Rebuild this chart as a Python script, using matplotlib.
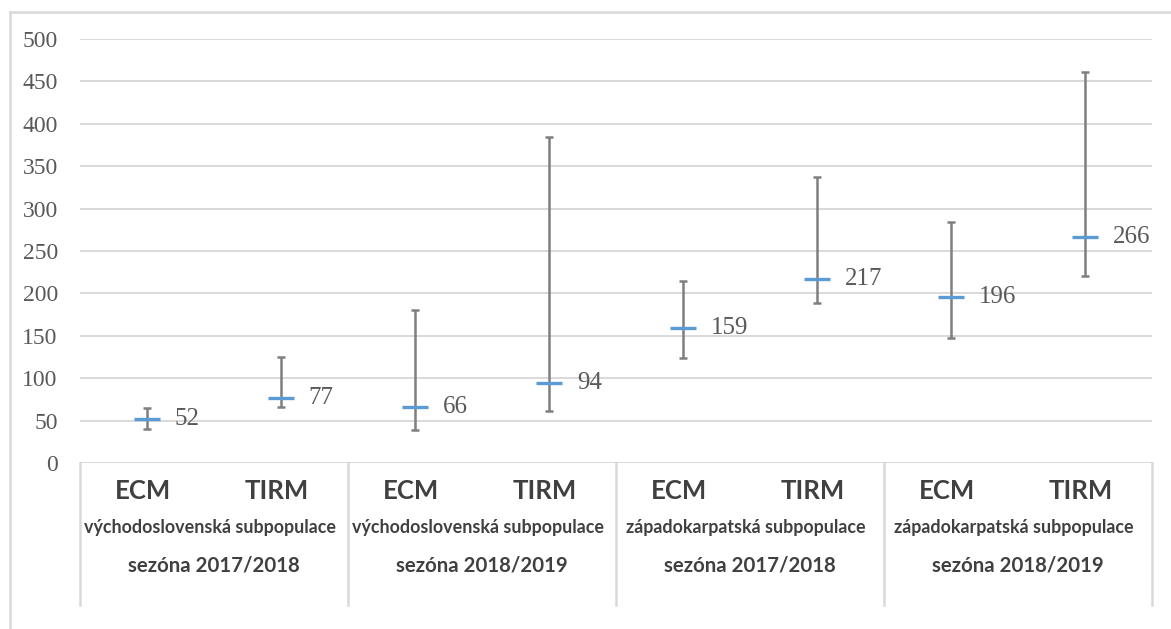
import matplotlib
matplotlib.use("Agg")
import matplotlib.pyplot as plt
from matplotlib.lines import Line2D

# serif for numbers, category texts set Lato explicitly
plt.rcParams["font.family"] = ["Liberation Serif", "DejaVu Serif"]

# --- Data ---
methods = ["ECM", "TIRM", "ECM", "TIRM", "ECM", "TIRM", "ECM", "TIRM"]
subpops = ["východoslovenská subpopulace", "východoslovenská subpopulace",
           "západokarpatská subpopulace", "západokarpatská subpopulace"]
seasons = ["sezóna 2017/2018", "sezóna 2018/2019",
           "sezóna 2017/2018", "sezóna 2018/2019"]
estimates = [52, 77, 66, 94, 159, 217, 196, 266]
lower = [40, 66, 39, 61, 124, 189, 147, 220]
upper = [65, 125, 180, 384, 215, 337, 284, 461]
y_ticks = [0, 50, 100, 150, 200, 250, 300, 350, 400, 450, 500]

W, H = 1171, 629
fig = plt.figure(figsize=(W / 100, H / 100), dpi=100)
fig.patch.set_facecolor("white")

# plot area in pixels
x0, x1, yb, yt = 80, 1152, 463, 39
ax = fig.add_axes([x0 / W, 1 - yb / H, (x1 - x0) / W, (yb - yt) / H])

grid_col = "#d9d9d9"
for s in ax.spines.values():
    s.set_visible(False)

ax.set_ylim(0, 500)
ax.set_xlim(0, len(methods))
ax.set_yticks(y_ticks)
ax.set_xticks([])
ax.yaxis.grid(True, color=grid_col, linewidth=1.4)
ax.set_axisbelow(True)
ax.tick_params(axis="y", length=0, pad=16, labelsize=17, labelcolor="#595959")

xs = [i + 0.5 for i in range(len(methods))]
err_lo = [e - l for e, l in zip(estimates, lower)]
err_hi = [u - e for e, u in zip(estimates, upper)]

# confidence intervals
ax.errorbar(xs, estimates, yerr=[err_lo, err_hi], fmt="none", ecolor="#7f7f7f",
            elinewidth=1.8, capsize=3, capthick=1.8, zorder=3)
# point estimates
ax.plot(xs, estimates, linestyle="none", marker="_", markersize=19,
        markeredgewidth=2.4, color="#5B9BD5", zorder=4)

for x, v in zip(xs, estimates):
    ax.annotate(str(v), (x, v), xytext=(20, 0), textcoords="offset points",
                ha="left", va="center", fontsize=18, color="#595959")

# category table under the axis
trans = ax.get_xaxis_transform()
depth = -(605 - yb) / (yb - yt)
for gx in range(0, len(methods) + 1, 2):
    ax.plot([gx, gx], [0, depth], transform=trans, color=grid_col,
            linewidth=1.8, clip_on=False)

y_method = -(491 - yb) / (yb - yt)
y_sub = -(528 - yb) / (yb - yt)
y_season = -(565 - yb) / (yb - yt)
for x, m in zip(xs, methods):
    ax.text(x - 0.03, y_method, m, transform=trans, ha="center", va="center",
            fontsize=18.5, fontweight="bold", color="#404040", family="Lato")
for g in range(len(subpops)):
    cx = 2 * g + 1
    ax.text(cx - 0.03, y_sub, subpops[g], transform=trans, ha="center",
            va="center", fontsize=12.9, fontweight="bold", color="#404040",
            family="Lato")
    ax.text(cx, y_season, seasons[g], transform=trans, ha="center",
            va="center", fontsize=14.7, fontweight="bold", color="#404040",
            family="Lato")

# outer chart frame
fig.add_artist(Line2D([10 / W, 1], [1 - 12 / H, 1 - 12 / H], color=grid_col,
                      linewidth=1.8, transform=fig.transFigure))
fig.add_artist(Line2D([10 / W, 10 / W], [0, 1 - 12 / H], color=grid_col,
                      linewidth=1.8, transform=fig.transFigure))

fig.savefig("out.png", dpi=100, facecolor="white")
